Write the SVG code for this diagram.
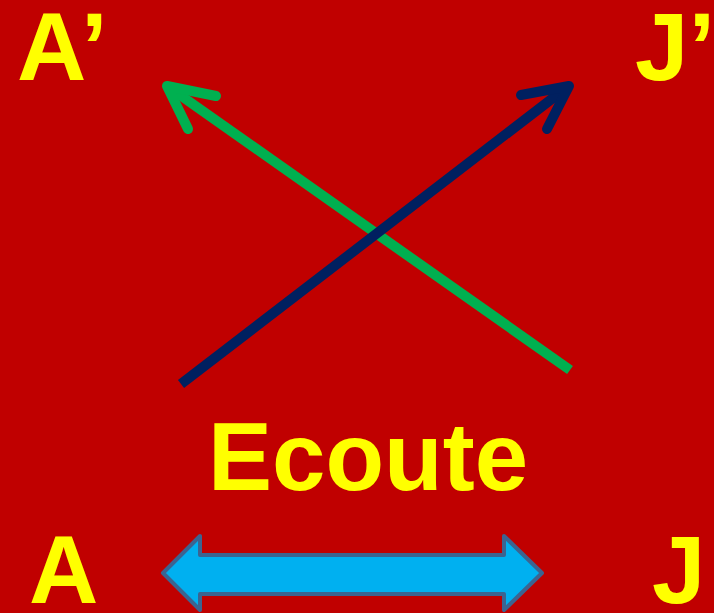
<svg xmlns="http://www.w3.org/2000/svg" width="714" height="613" viewBox="0 0 714 613">
<style>
.lbl{font-family:"Liberation Sans",Arial,sans-serif;font-weight:bold;fill:#FFFF00;font-size:96px}
</style>
<rect width="714" height="613" fill="#C00000"/>
<g id="connectors">
<g id="green-arrow" fill="none" stroke="#00B050" stroke-width="10">
<line x1="570" y1="370" x2="170" y2="88"/>
<polyline points="216,96 167,86 188,129" stroke-linecap="round" stroke-linejoin="round"/>
</g>
<g id="blue-arrow" fill="none" stroke="#002060" stroke-width="10">
<line x1="181" y1="384" x2="566" y2="88"/>
<polyline points="521,95 569,86 547,129" stroke-linecap="round" stroke-linejoin="round"/>
</g>
<path id="double-arrow" d="M163,573 L200,536 L200,555 L504,555 L504,536 L542,573 L504,610 L504,594 L200,594 L200,610 Z" fill="#00B0F0" stroke="#3B6491" stroke-width="4" stroke-linejoin="round"/>
</g>
<g id="node-A-prime"><text class="lbl" x="17" y="80">A’</text></g>
<g id="node-J-prime"><text class="lbl" x="635" y="80">J’</text></g>
<g id="node-ecoute"><text class="lbl" x="368" y="490" text-anchor="middle" font-size="95">Ecoute</text></g>
<g id="node-A"><text class="lbl" x="29" y="603">A</text></g>
<g id="node-J"><text class="lbl" x="652" y="603">J</text></g>
</svg>
